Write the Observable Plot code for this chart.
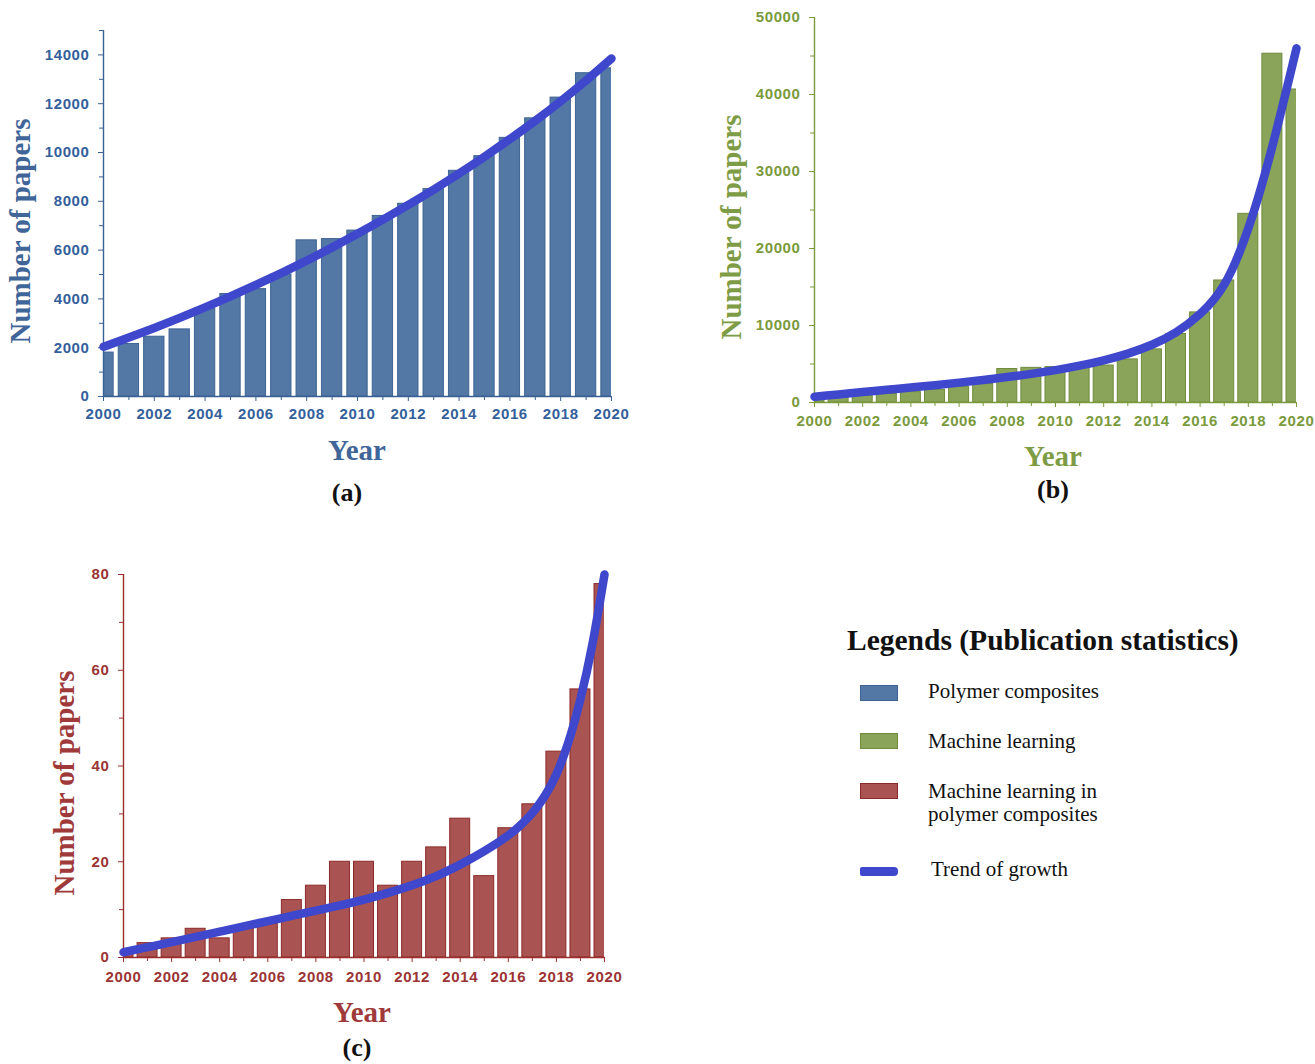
<!DOCTYPE html>
<html>
<head>
<meta charset="utf-8">
<script src="https://cdn.jsdelivr.net/npm/d3@7"></script>
<script src="https://cdn.jsdelivr.net/npm/@observablehq/plot@0.6"></script>
<style>
  body { margin: 0; background: #fff; }
  #root { position: relative; width: 1315px; height: 1064px; overflow: hidden; background: #fff; }
  .panel { position: absolute; }
  .t { position: absolute; font-family: "Liberation Serif", "Times New Roman", serif; font-weight: bold; white-space: nowrap; line-height: 1; }
  .lg { position: absolute; font-family: "Liberation Serif", "Times New Roman", serif; white-space: nowrap; line-height: 1; color: #111; }
  .sw { position: absolute; box-sizing: border-box; }
</style>
</head>
<body>
<div id="root"></div>
<script>
// ---------------- data ----------------
const years = [2000, 2001, 2002, 2003, 2004, 2005, 2006, 2007, 2008, 2009, 2010,
               2011, 2012, 2013, 2014, 2015, 2016, 2017, 2018, 2019, 2020];

// (a) Polymer composites
const polymerPapers = [1800, 2150, 2450, 2750, 3600, 4200, 4400, 5000, 6400, 6450, 6800,
                       7400, 7900, 8500, 9250, 9850, 10600, 11400, 12250, 13250, 13450];
const polymerTrendYears = years;
const polymerTrend = [2040, 2420, 2810, 3220, 3650, 4100, 4570, 5060, 5570, 6110, 6670,
                      7250, 7850, 8480, 9140, 9830, 10550, 11300, 12100, 12950, 13850];

// (b) Machine learning
const mlPapers = [500, 700, 900, 1100, 1350, 1650, 2000, 2400, 4350, 4500, 4600,
                  4500, 4800, 5600, 6900, 8900, 11700, 15850, 24500, 45300, 40650];
const mlTrendYears = years;
const mlTrend = [750, 1050, 1350, 1650, 1950, 2250, 2580, 2930, 3300, 3720, 4200,
                 4780, 5480, 6350, 7500, 9100, 11500, 15300, 22600, 33300, 46000];

// (c) Machine learning in polymer composites
const mlPolymerPapers = [1, 3, 4, 6, 4, 6, 7, 12, 15, 20, 20,
                         15, 20, 23, 29, 17, 27, 32, 43, 56, 78];
const mlPolymerTrendYears = [2000, 2001, 2002, 2003, 2004, 2005, 2006, 2007, 2008, 2009, 2010,
                             2011, 2012, 2013, 2014, 2015, 2016, 2016.5, 2017, 2017.5, 2018, 2018.5, 2019, 2019.5, 2020];
const mlPolymerTrend = [1.1, 2.15, 3.2, 4.3, 5.4, 6.5, 7.6, 8.7, 9.8, 10.9, 12.1,
                        13.5, 15.1, 17.0, 19.4, 22.2, 25.5, 27.6, 30.2, 33.6, 38.3, 45.0, 54.0, 65.5, 80];

// ticks
const majorYears = [2000, 2002, 2004, 2006, 2008, 2010, 2012, 2014, 2016, 2018, 2020];
const minorYears = [2001, 2003, 2005, 2007, 2009, 2011, 2013, 2015, 2017, 2019];
const yTicksA = [0, 2000, 4000, 6000, 8000, 10000, 12000, 14000];
const yMinorA = [1000, 3000, 5000, 7000, 9000, 11000, 13000, 15000];
const yTicksB = [0, 10000, 20000, 30000, 40000, 50000];
const yMinorB = [5000, 15000, 25000, 35000, 45000];
const yTicksC = [0, 20, 40, 60, 80];
const yMinorC = [10, 30, 50, 70];

const legendLabels = ["Polymer composites", "Machine learning", "Machine learning in\npolymer composites", "Trend of growth"];

const TREND = "#3F47CC";

// ---------------- helpers ----------------
function makePanel(o) {
  const bars = years.map((y, i) => ({year: y, value: o.values[i]}));
  const trend = o.trendYears.map((y, i) => ({year: y, value: o.trend[i]}));
  const h = o.barHalf;
  return Plot.plot({
    width: o.width, height: o.height,
    marginLeft: o.ml, marginRight: o.mr, marginTop: o.mt, marginBottom: o.mb,
    x: {domain: [2000, 2020]},
    y: {domain: [0, o.yMax]},
    style: {fontFamily: '"Liberation Sans", Arial, sans-serif', background: "transparent", overflow: "visible", letterSpacing: "0.6px"},
    marks: [
      Plot.rect(bars, {x1: d => d.year - h, x2: d => d.year + h, y1: 0, y2: "value",
                       fill: o.fill, stroke: o.edge, strokeWidth: 1, clip: true}),
      Plot.ruleX([2000], {stroke: o.axis, strokeWidth: 1.4}),
      Plot.ruleY([0], {stroke: o.axis, strokeWidth: 1.4}),
      Plot.axisX({ticks: majorYears, tickFormat: "d", tickSize: 5, tickPadding: o.xPad, color: o.text,
                  stroke: o.axis, fontSize: 15, fontWeight: "bold", label: null}),
      Plot.axisX({ticks: minorYears, tickFormat: () => "", tickSize: 4, stroke: o.axis, label: null}),
      Plot.axisY({ticks: o.yTicks, tickFormat: "d", tickSize: 5, tickPadding: 9, color: o.text,
                  stroke: o.axis, fontSize: 15, fontWeight: "bold", label: null}),
      Plot.axisY({ticks: o.yMinor, tickFormat: () => "", tickSize: 4, stroke: o.axis, label: null}),
      Plot.line(trend, {x: "year", y: "value", stroke: TREND, strokeWidth: 8.5, curve: "natural",
                        strokeLinecap: "round", strokeLinejoin: "round"})
    ]
  });
}

const root = document.getElementById("root");
function place(node, left, top) {
  const d = document.createElement("div");
  d.className = "panel";
  d.style.left = left + "px";
  d.style.top = top + "px";
  d.appendChild(node);
  root.appendChild(d);
}
// centered text with given baseline
function textAt(str, cx, baseline, size, color, cls = "t") {
  const d = document.createElement("div");
  d.className = cls;
  d.textContent = str;
  d.style.fontSize = size + "px";
  d.style.color = color;
  d.style.left = cx + "px";
  d.style.top = (baseline - 0.8375 * size) + "px";
  d.style.transform = "translateX(-50%)";
  root.appendChild(d);
  return d;
}
function leftText(str, x, baseline, size, color, cls) {
  const d = document.createElement("div");
  d.className = cls;
  d.textContent = str;
  d.style.fontSize = size + "px";
  d.style.color = color;
  d.style.left = x + "px";
  d.style.top = (baseline - 0.8375 * size) + "px";
  root.appendChild(d);
  return d;
}
function rotText(str, cx, cy, size, color) {
  const d = document.createElement("div");
  d.className = "t";
  d.textContent = str;
  d.style.fontSize = size + "px";
  d.style.color = color;
  d.style.left = cx + "px";
  d.style.top = cy + "px";
  d.style.transform = "translate(-50%, -50%) rotate(-90deg)";
  root.appendChild(d);
}

// ---------------- panels ----------------
const blue = {fill: "#5378A6", edge: "#3E6392", axis: "#3A6193", text: "#33609A", title: "#3F6599"};
const green = {fill: "#8AA45A", edge: "#6F8C3B", axis: "#7A9A3C", text: "#7A9A3C", title: "#7E9C45"};
const red = {fill: "#A95452", edge: "#8C2A2A", axis: "#9B2D2D", text: "#9B3434", title: "#A03A3A"};

place(makePanel({
  values: polymerPapers, trendYears: polymerTrendYears, trend: polymerTrend,
  width: 650, height: 430, ml: 103, mr: 39, mt: 30, mb: 34, yMax: 15000,
  yTicks: yTicksA, yMinor: yMinorA, xPad: 6.7, barHalf: 0.4, ...blue
}), 0, 0);

place(makePanel({
  values: mlPapers, trendYears: mlTrendYears, trend: mlTrend,
  width: 615, height: 440, ml: 114, mr: 19, mt: 17, mb: 38, yMax: 50000,
  yTicks: yTicksB, yMinor: yMinorB, xPad: 7.7, barHalf: 0.415, ...green
}), 700, 0);

place(makePanel({
  values: mlPolymerPapers, trendYears: mlPolymerTrendYears, trend: mlPolymerTrend,
  width: 650, height: 450, ml: 123, mr: 46, mt: 34, mb: 33, yMax: 80,
  yTicks: yTicksC, yMinor: yMinorC, xPad: 9, barHalf: 0.415, ...red
}), 0, 540);

// axis titles
rotText("Number of papers", 20, 231, 29, blue.title);
textAt("Year", 357, 460.5, 29, blue.title);
textAt("(a)", 347, 502, 26, "#111");

rotText("Number of papers", 731, 227, 29, green.title);
textAt("Year", 1053, 466.5, 29, green.title);
textAt("(b)", 1053, 499, 26, "#111");

rotText("Number of papers", 64, 783, 29, red.title);
textAt("Year", 362, 1022, 29, red.title);
textAt("(c)", 357, 1057, 26, "#111");

// ---------------- legend ----------------
leftText("Legends (Publication statistics)", 847, 651, 29.5, "#111", "t");
const swatches = [
  {top: 685, fill: blue.fill, edge: blue.edge},
  {top: 733, fill: green.fill, edge: green.edge},
  {top: 783, fill: red.fill, edge: red.edge}
];
swatches.forEach(s => {
  const d = document.createElement("div");
  d.className = "sw";
  d.style.left = "860px"; d.style.top = s.top + "px";
  d.style.width = "38px"; d.style.height = "16px";
  d.style.background = s.fill; d.style.border = "1px solid " + s.edge;
  root.appendChild(d);
});
const tl = document.createElement("div");
tl.className = "sw";
tl.style.left = "860px"; tl.style.top = "867px"; tl.style.width = "38px"; tl.style.height = "9px";
tl.style.background = TREND; tl.style.borderRadius = "2px 4px 4px 2px";
root.appendChild(tl);

leftText(legendLabels[0], 928, 699, 21, "#111", "lg");
leftText(legendLabels[1], 928, 748.5, 21, "#111", "lg");
const parts = legendLabels[2].split("\n");
leftText(parts[0], 928, 799, 21, "#111", "lg");
leftText(parts[1], 928, 822, 21, "#111", "lg");
leftText(legendLabels[3], 931, 877, 21, "#111", "lg");
</script>
</body>
</html>
